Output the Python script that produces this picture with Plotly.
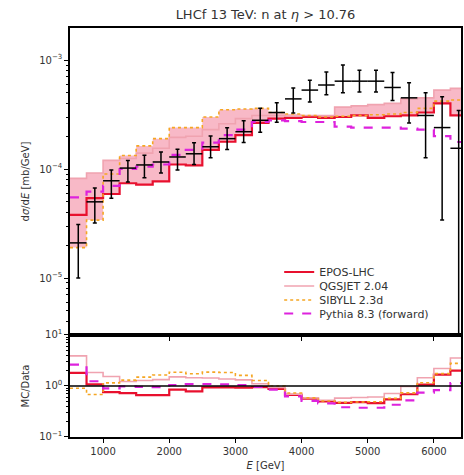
import plotly.graph_objects as go
from plotly.subplots import make_subplots

# ---------------- data ----------------
E_edges = [500, 750, 1000, 1250, 1500, 1750, 2000, 2250, 2500, 2750, 3000, 3250,
           3500, 3750, 4000, 4250, 4500, 4750, 5000, 5250, 5500, 5750, 6000, 6250, 6500]

data_val = [2.1e-5, 5.0e-5, 7.8e-5, 1.02e-4, 1.09e-4, 1.16e-4, 1.29e-4, 1.38e-4,
            1.6e-4, 1.9e-4, 2.2e-4, 2.8e-4, 3.3e-4, 4.4e-4, 5.3e-4, 5.9e-4,
            6.4e-4, 6.4e-4, 6.4e-4, 5.6e-4, 4.5e-4, 3.1e-4, 2.4e-4, 1.55e-4]
data_err_up = [1.0e-5, 1.7e-5, 2.0e-5, 1.8e-5, 2.5e-5, 2.7e-5, 2.3e-5, 3.6e-5,
               4.1e-5, 4.9e-5, 5.7e-5, 8.1e-5, 7.6e-5, 1.14e-4, 1.22e-4, 1.88e-4,
               2.6e-4, 1.66e-4, 1.66e-4, 2.1e-4, 1.7e-4, 1.9e-4, 2.2e-4, 1.9e-4]
data_err_dn = [1.1e-5, 1.8e-5, 2.4e-5, 2.6e-5, 2.6e-5, 2.4e-5, 3.1e-5, 2.8e-5,
               3.3e-5, 3.9e-5, 4.5e-5, 6.3e-5, 6.2e-5, 1.14e-4, 1.19e-4, 1.1e-4,
               1.4e-4, 1.3e-4, 1.3e-4, 1.34e-4, 1.85e-4, 1.83e-4, 2.06e-4, 1.53e-4]

epos = [3.8e-5, 5.4e-5, 5.9e-5, 7.4e-5, 7.2e-5, 7.7e-5, 1.1e-4, 1.08e-4,
        1.5e-4, 1.78e-4, 2.05e-4, 2.65e-4, 2.9e-4, 2.95e-4, 3.0e-4, 2.95e-4,
        3.0e-4, 3.1e-4, 2.95e-4, 3.05e-4, 3.1e-4, 3.3e-4, 4.0e-4, 3.1e-4]
qgsjet = [8.2e-5, 9.2e-5, 1.2e-4, 1.25e-4, 1.4e-4, 1.55e-4, 1.95e-4, 2.0e-4,
          2.3e-4, 2.6e-4, 2.9e-4, 3.1e-4, 3.1e-4, 3.05e-4, 3.1e-4, 3.1e-4,
          3.7e-4, 3.8e-4, 3.9e-4, 4.0e-4, 4.4e-4, 4.5e-4, 5.3e-4, 5.5e-4]
sibyll = [1.9e-5, 3.4e-5, 9.0e-5, 1.33e-4, 1.63e-4, 1.9e-4, 2.4e-4, 2.4e-4,
          3.0e-4, 3.5e-4, 3.55e-4, 3.6e-4, 3.3e-4, 3.2e-4, 3.1e-4, 3.0e-4,
          3.05e-4, 3.1e-4, 3.15e-4, 3.2e-4, 3.3e-4, 3.6e-4, 4.2e-4, 4.3e-4]
pythia = [5.5e-5, 6.2e-5, 7.0e-5, 1.0e-4, 1.05e-4, 1.1e-4, 1.35e-4, 1.5e-4,
          1.75e-4, 2.05e-4, 2.3e-4, 2.7e-4, 2.8e-4, 2.75e-4, 2.7e-4, 2.7e-4,
          2.45e-4, 2.4e-4, 2.4e-4, 2.4e-4, 2.35e-4, 2.3e-4, 2.0e-4, 1.77e-4]

model_names = ["EPOS-LHC", "QGSJET 2.04", "SIBYLL 2.3d", "Pythia 8.3 (forward)"]
model_vals = [epos, qgsjet, sibyll, pythia]
model_colors = ["#e8102e", "#f0a3b0", "#f5a623", "#dd22dd"]
model_dash = ["solid", "solid", "dot", "dash"]
model_width = [2.2, 1.6, 1.6, 2.2]

title_text = "LHCf 13 TeV: n at <i>η</i> > 10.76"
font = "DejaVu Sans"

# ---------------- derived ----------------
centers = [(a + b) / 2 for a, b in zip(E_edges[:-1], E_edges[1:])]
halfw = [(b - a) / 2 for a, b in zip(E_edges[:-1], E_edges[1:])]


def step(v):
    return list(v) + [v[-1]]


band_lo = [min(a, b, c) for a, b, c in zip(epos, qgsjet, sibyll)]
band_hi = [max(a, b, c) for a, b, c in zip(epos, qgsjet, sibyll)]

fig = make_subplots(rows=2, cols=1, shared_xaxes=True, vertical_spacing=0,
                    row_heights=[0.7506, 0.2494])

# envelope band
fig.add_trace(go.Scatter(x=E_edges, y=step(band_lo), mode="lines", line=dict(width=0, shape="hv"),
                         showlegend=False, hoverinfo="skip"), row=1, col=1)
fig.add_trace(go.Scatter(x=E_edges, y=step(band_hi), mode="lines", line=dict(width=0, shape="hv"),
                         fill="tonexty", fillcolor="rgba(235,60,100,0.36)",
                         showlegend=False, hoverinfo="skip"), row=1, col=1)

legend_ids = ["legend", "legend2", "legend3", "legend4"]
for name, vals, col, dash, w, lg in zip(model_names, model_vals, model_colors, model_dash,
                                        model_width, legend_ids):
    fig.add_trace(go.Scatter(x=E_edges, y=step(vals), mode="lines", name=name,
                             line=dict(color=col, dash=dash, width=w, shape="hv"),
                             legend=lg), row=1, col=1)
    ratio = [m / d for m, d in zip(vals, data_val)]
    fig.add_trace(go.Scatter(x=E_edges, y=step(ratio), mode="lines", showlegend=False,
                             line=dict(color=col, dash=dash, width=w, shape="hv")), row=2, col=1)

# data points
fig.add_trace(go.Scatter(x=centers, y=data_val, mode="markers", showlegend=False,
                         marker=dict(size=1, color="black"),
                         error_x=dict(type="data", array=halfw, color="black", thickness=1.5, width=0),
                         error_y=dict(type="data", array=data_err_up, arrayminus=data_err_dn,
                                      symmetric=False, color="black", thickness=1.5, width=2)),
              row=1, col=1)

# ratio = 1 reference line
fig.add_shape(type="line", xref="x2 domain", yref="y2", x0=0, x1=1, y0=1, y1=1,
              line=dict(color="black", width=1.6))

axis_common = dict(showline=True, linecolor="black", linewidth=1.5, mirror=True,
                   ticks="outside", ticklen=4, tickwidth=1, tickcolor="black",
                   showgrid=False, zeroline=False,
                   tickfont=dict(family=font, size=10, color="#333"))

fig.update_xaxes(range=[500, 6410], **axis_common)
fig.update_xaxes(showticklabels=False, row=1, col=1)
fig.update_xaxes(tickvals=[1000, 2000, 3000, 4000, 5000, 6000],
                 title=dict(text="<i>E</i> [GeV]", font=dict(family=font, size=10, color="#333"),
                            standoff=6), row=2, col=1)

fig.update_yaxes(type="log", range=[-5.523, -2.706],
                 tickvals=[1e-5, 1e-4, 1e-3],
                 ticktext=["10<sup>−5</sup>", "10<sup>−4</sup>", "10<sup>−3</sup>"],
                 minor=dict(ticks="outside", ticklen=2, tickcolor="black",
                            tickvals=[k * 10 ** e for e in (-6, -5, -4, -3) for k in range(2, 10)]),
                 title=dict(text="d<i>σ</i>/d<i>E</i> [mb/GeV]",
                            font=dict(family=font, size=10, color="#333"), standoff=8),
                 row=1, col=1, **axis_common)
fig.update_yaxes(type="log", range=[-1, 1],
                 tickvals=[0.1, 1, 10],
                 ticktext=["10<sup>−1</sup>", "10<sup>0</sup>", "10<sup>1</sup>"],
                 minor=dict(ticks="outside", ticklen=2, tickcolor="black",
                            tickvals=[k * 10 ** e for e in (-1, 0) for k in range(2, 10)]),
                 title=dict(text="MC/Data", font=dict(family=font, size=10, color="#333"),
                            standoff=8),
                 row=2, col=1, **axis_common)

leg_y = [0.4034, 0.3692, 0.335, 0.302]
leg_common = dict(x=0.535, xanchor="left", yanchor="middle", bgcolor="rgba(0,0,0,0)",
                  borderwidth=0, font=dict(family=font, size=11, color="#333"))
fig.update_layout(
    width=464, height=475,
    margin=dict(l=70, r=1, t=28, b=38),
    paper_bgcolor="white", plot_bgcolor="white",
    title=dict(text=title_text, x=0.5, xref="paper", y=1 - 14 / 475, yref="container",
               yanchor="middle", font=dict(family=font, size=13, color="#333")),
    legend=dict(y=leg_y[0], **leg_common),
    legend2=dict(y=leg_y[1], **leg_common),
    legend3=dict(y=leg_y[2], **leg_common),
    legend4=dict(y=leg_y[3], **leg_common),
)

fig.write_html("out.html")
